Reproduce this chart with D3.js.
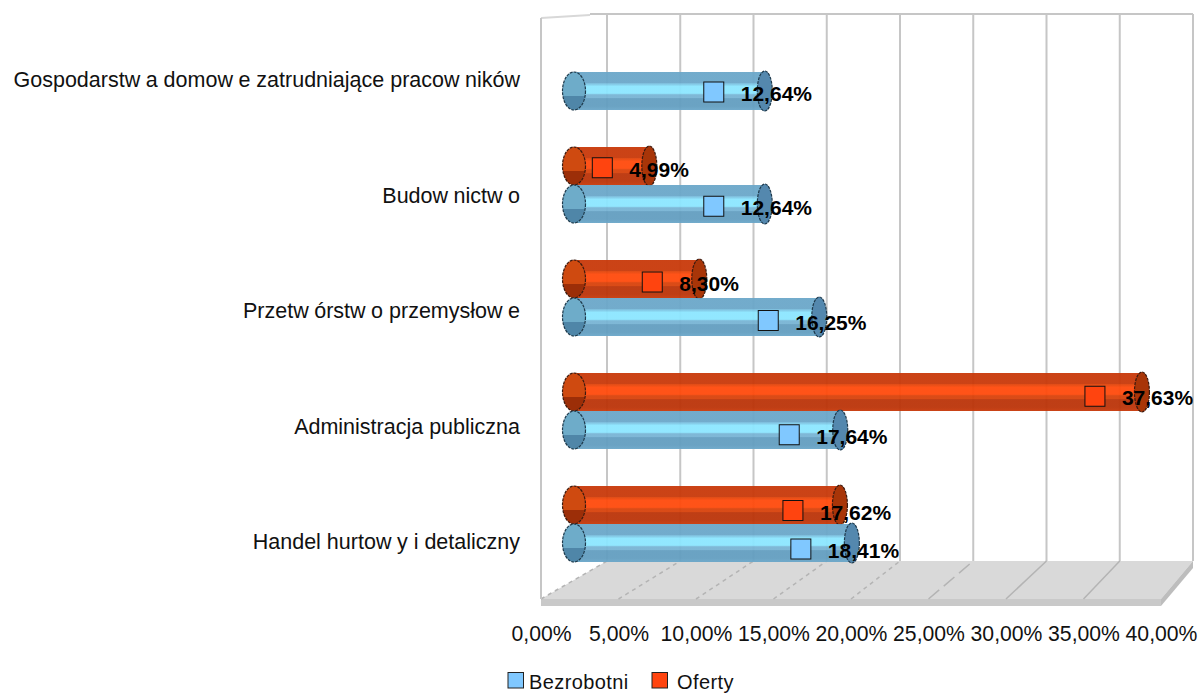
<!DOCTYPE html>
<html>
<head>
<meta charset="utf-8">
<title>Bezrobotni i oferty</title>
<script src="https://cdn.jsdelivr.net/npm/d3@7"></script>
<style>
  html, body { margin: 0; padding: 0; background: #fff; overflow: hidden; }
  text { font-family: "Liberation Sans", Arial, sans-serif; fill: #111; }
</style>
</head>
<body>
<svg width="1201" height="693"></svg>
<script>
// dane
let categories = ['Gospodarstwa domowe zatrudniające pracowników', 'Budownictwo', 'Przetwórstwo przemysłowe', 'Administracja publiczna', 'Handel hurtowy i detaliczny']
let bezrobotni = [12.64, 12.64, 16.25, 17.64, 18.41]
let oferty = [null, 4.99, 8.30, 37.63, 17.62]
let seriesNames = ['Bezrobotni', 'Oferty']
let ticks = [0, 5, 10, 15, 20, 25, 30, 35, 40]

let svg = d3.select('svg')
let pl = d3.formatLocale({ decimal: ',', thousands: ' ', grouping: [3], currency: ['', ''] })
let fmt = pl.format('.2f')

// trzy skale x: przod podlogi, tylna sciana i same walce
let xFront = d3.scaleLinear().domain([0, 40]).range([541, 1161])
let xBack = d3.scaleLinear().domain([0, 40]).range([607, 1193])
let xBar = d3.scaleLinear().domain([0, 40]).range([574, 1177.7])
let yBar = d3.scalePoint().domain(categories).range([91, 543])
let yMark = d3.scalePoint().domain(categories).range([92, 549])
let yLabel = d3.scalePoint().domain(categories).range([80, 542])

let wallTop = 14
let floorBack = 561
let floorFront = 599
let slabBottom = 606
let barH = 38

let series = [
  { name: seriesNames[1], values: oferty, grad: 'gradO', dy: -38, markDy: -38.5, markOff: -47, fill: '#ff440f', capTop: '#cf4a10', capBot: '#9c2e08', endCap: '#a83508', stroke: '#3a1a10' },
  { name: seriesNames[0], values: bezrobotni, grad: 'gradB', dy: 0, markDy: 0, markOff: -51, fill: '#80c8ff', capTop: '#6eacc9', capBot: '#4f86a8', endCap: '#5488ae', stroke: '#1f3a4c' }
]

let drawGradients = () => {
  let defs = svg.append('defs')
  let stops = {
    gradO: ['#c8390a', '#c8390a', '#e0440b', '#ff4a0c', '#ff4a0c', '#d8420b', '#d8420b', '#bb3409', '#bb3409', '#c8390a'],
    gradB: ['#6ba7c9', '#6ba7c9', '#78bbdb', '#8ce6ff', '#8ce6ff', '#78b4d4', '#78b4d4', '#639ec0', '#639ec0', '#6ba7c9']
  }
  let offs = [0, 0.3, 0.3, 0.38, 0.56, 0.6, 0.68, 0.7, 0.9, 1]
  Object.keys(stops).forEach((id) => {
    let g = defs.append('linearGradient').attr('id', id).attr('x1', 0).attr('y1', 0).attr('x2', 0).attr('y2', 1)
    stops[id].forEach((c, i) => {
      g.append('stop').attr('offset', offs[i]).attr('stop-color', c)
    })
  })
}

let drawWalls = () => {
  // podloga
  svg.append('polygon')
    .attr('points', [[xFront(0), floorFront], [xBack(0), floorBack], [xBack(40), floorBack], [xFront(40), floorFront]].join(' '))
    .attr('fill', '#d9d9d9')
  svg.append('polygon')
    .attr('points', [[xFront(0), floorFront], [xFront(40), floorFront], [xFront(40), slabBottom], [xFront(0), slabBottom]].join(' '))
    .attr('fill', '#c9c9c9')
  svg.append('polygon')
    .attr('points', [[xFront(40), floorFront], [xBack(40), floorBack], [xBack(40), floorBack + 7], [xFront(40), slabBottom]].join(' '))
    .attr('fill', '#bdbdbd')

  // linie siatki na tylnej scianie i na podlodze
  svg.append('g').selectAll('line').data(ticks).enter().append('line')
    .attr('x1', (d) => xBack(d)).attr('x2', (d) => xBack(d))
    .attr('y1', wallTop).attr('y2', floorBack)
    .attr('stroke', '#c6c6c6').attr('stroke-width', 2)
  svg.append('g').selectAll('line').data(ticks.slice(0, -1)).enter().append('line')
    .attr('x1', (d) => xFront(d)).attr('x2', (d) => xBack(d))
    .attr('y1', floorFront).attr('y2', floorBack)
    .attr('stroke', '#b4b4b4').attr('stroke-width', 1.5)
    .attr('stroke-dasharray', (d) => d < 25 ? '4 4' : (d < 30 ? '14 6' : null))

  // gora i lewa sciana
  svg.append('line').attr('x1', 590).attr('x2', xBack(40)).attr('y1', wallTop).attr('y2', wallTop)
    .attr('stroke', '#c6c6c6').attr('stroke-width', 2)
  svg.append('line').attr('x1', xFront(0)).attr('x2', 590).attr('y1', 18).attr('y2', 15)
    .attr('stroke', '#d8d8d8').attr('stroke-width', 2)
  svg.append('line').attr('x1', xFront(0)).attr('x2', xFront(0)).attr('y1', 18).attr('y2', floorFront)
    .attr('stroke', '#c6c6c6').attr('stroke-width', 2)
}

let drawBars = () => {
  categories.forEach((cat, i) => {
    series.forEach((s) => {
      let v = s.values[i]
      if (v == null) return
      let cy = yBar(cat) + s.dy
      let g = svg.append('g').attr('class', 'bar')
      g.append('rect')
        .attr('x', xBar(0)).attr('y', cy - barH / 2)
        .attr('width', xBar(v) - xBar(0)).attr('height', barH)
        .attr('fill', 'url(#' + s.grad + ')').attr('opacity', 0.95)
      // pokrywa z lewej: gora jasniejsza, dol ciemniejszy
      g.append('ellipse').attr('cx', xBar(0)).attr('cy', cy)
        .attr('rx', 11.5).attr('ry', barH / 2).attr('fill', s.capTop)
      g.append('path')
        .attr('d', 'M' + (xBar(0) - 11) + ',' + (cy + 5) + ' A11.5,' + (barH / 2) + ' 0 0 0 ' + (xBar(0) + 11) + ',' + (cy + 5) + ' Z')
        .attr('fill', s.capBot)
      g.append('ellipse').attr('cx', xBar(0)).attr('cy', cy)
        .attr('rx', 11.5).attr('ry', barH / 2).attr('fill', 'none')
        .attr('stroke', s.stroke).attr('stroke-width', 1.2).attr('stroke-dasharray', '3 1')
      // pokrywa z prawej
      g.append('ellipse').attr('cx', xBar(v)).attr('cy', cy)
        .attr('rx', 7.5).attr('ry', barH / 2 + 1).attr('fill', s.endCap)
        .attr('stroke', s.stroke).attr('stroke-width', 1.2).attr('stroke-dasharray', '3 1')
    })
  })
}

let drawMarks = () => {
  categories.forEach((cat, i) => {
    series.forEach((s) => {
      let v = s.values[i]
      if (v == null) return
      let my = yMark(cat) + s.markDy
      let mx = xBar(v) + s.markOff
      svg.append('rect').attr('x', mx - 10).attr('y', my - 10).attr('width', 20).attr('height', 20)
        .attr('fill', s.fill).attr('stroke', '#111').attr('stroke-width', 1)
      svg.append('text').attr('x', mx + 27).attr('y', my + 9)
        .attr('font-size', 21).attr('font-weight', 'bold').style('fill', '#000')
        .text(fmt(v) + '%')
    })
  })
}

// w oryginale po kazdym "w" jest wieksza przerwa
let kernText = (sel, label) => {
  label.split('w').forEach((part, i, all) => {
    let t = sel.append('tspan').text(part + (i < all.length - 1 ? 'w' : ''))
    if (i > 0) t.attr('dx', 5.5)
  })
}

let drawLabels = () => {
  categories.forEach((cat) => {
    let t = svg.append('text').attr('x', 520).attr('y', yLabel(cat) + 7)
      .attr('text-anchor', 'end').attr('font-size', 21.5)
    kernText(t, cat)
  })

  let axis = d3.axisBottom(xFront).tickValues(ticks)
    .tickSize(0).tickPadding(0)
    .tickFormat((d) => fmt(d) + '%')
  let ax = svg.append('g').attr('transform', 'translate(0,626)').call(axis)
  ax.select('.domain').remove()
  ax.selectAll('text').attr('font-size', 21.2).style('font-family', '"Liberation Sans", Arial, sans-serif')
  ax.attr('font-size', 21.2)
}

let drawLegend = () => {
  let legendX = d3.scaleOrdinal().domain(seriesNames).range([508, 652])
  let legendTextX = d3.scaleOrdinal().domain(seriesNames).range([529, 677])
  let legendFill = d3.scaleOrdinal().domain(seriesNames).range(['#80c8ff', '#ff440f'])
  seriesNames.forEach((n) => {
    svg.append('rect').attr('x', legendX(n)).attr('y', 672.5).attr('width', 15.5).attr('height', 15.5)
      .attr('fill', legendFill(n)).attr('stroke', '#222').attr('stroke-width', 1)
    svg.append('text').attr('x', legendTextX(n)).attr('y', 688.5)
      .attr('font-size', 20).attr('letter-spacing', 0.4).text(n)
  })
}

drawGradients()
drawWalls()
drawBars()
drawMarks()
drawLabels()
drawLegend()
</script>
</body>
</html>
